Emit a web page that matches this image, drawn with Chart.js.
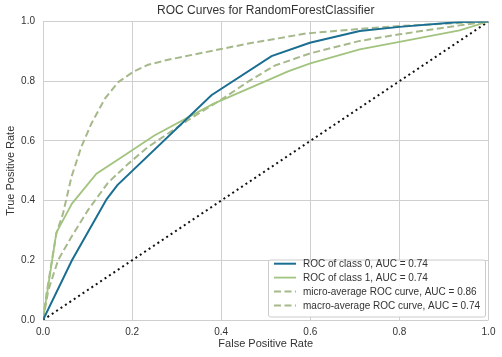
<!DOCTYPE html>
<html>
<head>
<meta charset="utf-8">
<script src="https://cdn.jsdelivr.net/npm/chart.js@4/dist/chart.umd.min.js"></script>
<style>
  html, body { margin: 0; padding: 0; background: #ffffff; }
  #wrap { width: 502px; height: 357px; position: relative; }
</style>
</head>
<body>
<div id="wrap"><canvas id="c" width="502" height="357"></canvas></div>
<script>
const chartTitle = "ROC Curves for RandomForestClassifier";
const xAxisLabel = "False Positive Rate";
const yAxisLabel = "True Positive Rate";
const tickValues = [0, 0.2, 0.4, 0.6, 0.8, 1.0];

const seriesLabels = [
  "ROC of class 0, AUC = 0.74",
  "ROC of class 1, AUC = 0.74",
  "micro-average ROC curve, AUC = 0.86",
  "macro-average ROC curve, AUC = 0.74"
];

const class0FPR = [0, 0.065, 0.143, 0.167, 0.378, 0.513, 0.599, 0.711, 0.8, 0.935, 1];
const class0TPR = [0, 0.2, 0.405, 0.452, 0.753, 0.884, 0.929, 0.968, 0.982, 0.998, 1];

const class1FPR = [0, 0.03, 0.065, 0.12, 0.184, 0.25, 0.382, 0.509, 0.55, 0.6, 0.711, 0.8, 0.935, 1];
const class1TPR = [0, 0.293, 0.39, 0.49, 0.553, 0.618, 0.724, 0.806, 0.833, 0.86, 0.907, 0.932, 0.97, 1];

const microFPR = [0, 0.008, 0.019, 0.03, 0.045, 0.064, 0.086, 0.109, 0.139, 0.169, 0.203, 0.236, 0.278, 0.397, 0.464, 0.591, 0.711, 0.8, 1];
const microTPR = [0, 0.089, 0.19, 0.29, 0.357, 0.48, 0.58, 0.659, 0.742, 0.797, 0.832, 0.855, 0.871, 0.907, 0.927, 0.96, 0.975, 0.985, 1];

const macroFPR = [0, 0.012, 0.034, 0.064, 0.101, 0.146, 0.191, 0.236, 0.326, 0.401, 0.464, 0.52, 0.599, 0.711, 0.8, 0.935, 1];
const macroTPR = [0, 0.1, 0.201, 0.279, 0.368, 0.46, 0.523, 0.58, 0.67, 0.739, 0.802, 0.852, 0.893, 0.935, 0.957, 0.987, 1];

const diagFPR = [0, 1];
const diagTPR = [0, 1];

function pts(xs, ys) { return xs.map((x, i) => ({ x: x, y: ys[i] })); }

const FONT = "'Liberation Sans', Arial, Helvetica, sans-serif";
const TEXT = "#333333";
const GRID = "#cfcfcf";

const colBlue = "#1a6e92";
const colGreen = "#a2c47f";
const colDash = "#a6b98b";

const datasets = [
  { label: seriesLabels[0], data: pts(class0FPR, class0TPR), borderColor: colBlue, borderWidth: 2 },
  { label: seriesLabels[1], data: pts(class1FPR, class1TPR), borderColor: colGreen, borderWidth: 1.8 },
  { label: seriesLabels[2], data: pts(microFPR, microTPR), borderColor: colDash, borderWidth: 2, borderDash: [7, 3.5] },
  { label: seriesLabels[3], data: pts(macroFPR, macroTPR), borderColor: colDash, borderWidth: 2, borderDash: [7, 3.5] },
  { label: "", data: pts(diagFPR, diagTPR), borderColor: "#111111", borderWidth: 2, borderDash: [2, 3.3], noLegend: true }
];
datasets.forEach(d => {
  d.showLine = true; d.pointRadius = 0; d.pointHoverRadius = 0; d.fill = false; d.tension = 0;
  d.borderCapStyle = 'butt';
});

const overlay = {
  id: 'overlay',
  afterDraw(chart) {
    const ctx = chart.ctx;
    const a = chart.chartArea;
    ctx.save();
    // title
    ctx.fillStyle = TEXT;
    ctx.font = "12px " + FONT;
    ctx.textAlign = 'center';
    ctx.textBaseline = 'middle';
    ctx.fillText(chartTitle, (a.left + a.right) / 2, 11);
    // legend
    const bx = 268, by = 259.5, bw = 217, bh = 57;
    ctx.fillStyle = 'rgba(255,255,255,0.9)';
    ctx.strokeStyle = '#cccccc';
    ctx.lineWidth = 1;
    ctx.beginPath();
    if (ctx.roundRect) ctx.roundRect(bx + 0.5, by + 0.5, bw, bh, 2); else ctx.rect(bx + 0.5, by + 0.5, bw, bh);
    ctx.fill();
    ctx.stroke();
    ctx.font = "10px " + FONT;
    ctx.textAlign = 'left';
    ctx.textBaseline = 'middle';
    const rows = [263.7, 277.6, 291.5, 305.4];
    chart.data.datasets.filter(d => !d.noLegend).forEach((d, i) => {
      const y = rows[i];
      ctx.strokeStyle = d.borderColor;
      ctx.lineWidth = d.borderWidth;
      ctx.setLineDash(d.borderDash || []);
      ctx.beginPath();
      ctx.moveTo(274, y);
      ctx.lineTo(296, y);
      ctx.stroke();
      ctx.setLineDash([]);
      ctx.fillStyle = TEXT;
      ctx.fillText(d.label, 303, y + 0.5);
    });
    ctx.restore();
  }
};

new Chart(document.getElementById('c'), {
  type: 'scatter',
  data: { datasets: datasets },
  plugins: [overlay],
  options: {
    responsive: false,
    animation: false,
    devicePixelRatio: 1,
    layout: { padding: { top: 21.5, right: 13.5, left: 0, bottom: 0 } },
    plugins: {
      legend: { display: false },
      title: { display: false },
      tooltip: { enabled: false }
    },
    scales: {
      x: {
        type: 'linear', min: 0, max: 1,
        afterFit: s => { s.height = 37; },
        afterBuildTicks: s => { s.ticks = tickValues.map(v => ({ value: v })); },
        grid: { color: GRID, lineWidth: 1, drawTicks: false },
        border: { display: false },
        ticks: { color: TEXT, font: { family: FONT, size: 10 }, padding: 6, maxRotation: 0,
                 callback: v => Number(v).toFixed(1) },
        title: { display: true, text: xAxisLabel, color: TEXT, font: { family: FONT, size: 11 }, padding: { top: 0, bottom: 6 } }
      },
      y: {
        type: 'linear', min: 0, max: 1,
        afterFit: s => { s.width = 43; },
        afterBuildTicks: s => { s.ticks = tickValues.map(v => ({ value: v })); },
        grid: { color: GRID, lineWidth: 1, drawTicks: false },
        border: { display: false },
        ticks: { color: TEXT, font: { family: FONT, size: 10 }, padding: 8,
                 callback: v => Number(v).toFixed(1) },
        title: { display: true, text: yAxisLabel, color: TEXT, font: { family: FONT, size: 11 }, padding: { top: 4, bottom: 0 } }
      }
    }
  }
});
</script>
</body>
</html>
